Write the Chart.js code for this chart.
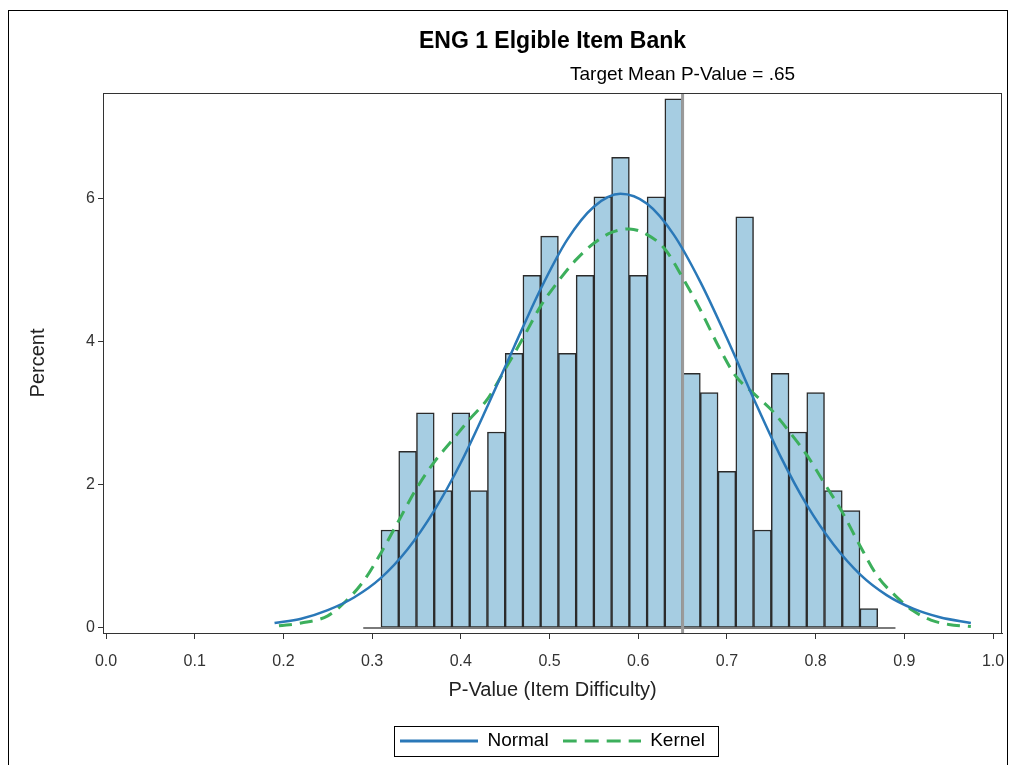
<!DOCTYPE html>
<html>
<head>
<meta charset="utf-8">
<title>ENG 1 Elgible Item Bank</title>
<script src="https://cdn.jsdelivr.net/npm/chart.js@4.4.1/dist/chart.umd.min.js"></script>
<style>
  html, body { margin: 0; padding: 0; background: #fff; }
  #wrap { position: relative; width: 1011px; height: 765px; overflow: hidden; }
  #frame { position: absolute; left: 8px; top: 10px; width: 1000px; height: 800px; border: 1px solid #000; box-sizing: border-box; }
  canvas#chart { position: absolute; left: 0; top: 0; }
</style>
</head>
<body>
<div id="wrap">
  <div id="frame"></div>
  <canvas id="chart" width="1011" height="765"></canvas>
</div>
<script>
// histogram: bins are 0.02 wide, these are the bin midpoints
const binCenters = [0.32, 0.34, 0.36, 0.38, 0.40, 0.42, 0.44, 0.46, 0.48, 0.50,
                    0.52, 0.54, 0.56, 0.58, 0.60, 0.62, 0.64, 0.66, 0.68, 0.70,
                    0.72, 0.74, 0.76, 0.78, 0.80, 0.82, 0.84, 0.86];
const binPercents = [1.37, 2.47, 3.01, 1.92, 3.01, 1.92, 2.74, 3.84, 4.93, 5.48,
                     3.84, 4.93, 6.03, 6.58, 4.93, 6.03, 7.40, 3.56, 3.29, 2.19,
                     5.75, 1.37, 3.56, 2.74, 3.29, 1.92, 1.64, 0.27];
// empty end bins only show as an outline on the baseline
const emptyBinEdges = [0.29, 0.89];

// fitted curves
const normalX = [0.19, 0.22, 0.25, 0.28, 0.31, 0.34, 0.37, 0.40, 0.43, 0.46,
                 0.49, 0.52, 0.55, 0.58, 0.61, 0.64, 0.67, 0.70, 0.73, 0.76,
                 0.79, 0.82, 0.85, 0.88, 0.91, 0.94, 0.975];
const normalPct = [0.07, 0.13, 0.25, 0.43, 0.70, 1.10, 1.64, 2.31, 3.10, 3.93,
                   4.74, 5.43, 5.89, 6.07, 5.93, 5.50, 4.84, 4.05, 3.21, 2.41,
                   1.72, 1.17, 0.75, 0.46, 0.27, 0.15, 0.07];

const kernelX = [0.195, 0.22, 0.25, 0.27, 0.29, 0.31, 0.33, 0.35, 0.37, 0.39,
                 0.41, 0.43, 0.45, 0.47, 0.49, 0.51, 0.53, 0.55, 0.57, 0.59,
                 0.61, 0.63, 0.65, 0.67, 0.69, 0.71, 0.73, 0.75, 0.77, 0.79,
                 0.81, 0.83, 0.85, 0.87, 0.89, 0.91, 0.93, 0.95, 0.975];
const kernelPct = [0.03, 0.07, 0.17, 0.37, 0.65, 1.05, 1.50, 1.95, 2.32, 2.62,
                   2.92, 3.20, 3.62, 4.05, 4.50, 4.85, 5.15, 5.38, 5.53, 5.58,
                   5.50, 5.30, 4.90, 4.45, 3.95, 3.52, 3.28, 3.05, 2.75, 2.42,
                   2.02, 1.62, 1.15, 0.72, 0.45, 0.24, 0.11, 0.05, 0.02];

const targetMean = 0.65;
const xTicks = [0, 0.1, 0.2, 0.3, 0.4, 0.5, 0.6, 0.7, 0.8, 0.9, 1.0];
const yTicks = [0, 2, 4, 6];

const xMin = -0.0034, xMax = 1.0101;
const yMin = -0.07, yMax = 7.48;

const NORMAL_COLOR = '#2a78b8';
const KERNEL_COLOR = '#3caf5c';
const FONT = "'Liberation Sans', Arial, sans-serif";

const pairs = (xs, ys) => xs.map((x, i) => ({ x: x, y: ys[i] }));

Chart.defaults.font.family = FONT;
Chart.defaults.color = '#333';

// legend samples: a plain line and a dashed one
function lineSample(color, width, dash) {
  const c = document.createElement('canvas');
  c.width = 78; c.height = 6;
  const g = c.getContext('2d');
  g.strokeStyle = color;
  g.lineWidth = width;
  g.setLineDash(dash);
  g.beginPath();
  g.moveTo(0, 3);
  g.lineTo(78, 3);
  g.stroke();
  return c;
}
const samples = {
  Normal: lineSample(NORMAL_COLOR, 3, []),
  Kernel: lineSample(KERNEL_COLOR, 3, [14, 8])
};

// target label above the plot + frame round the plot + box round the legend
const extras = {
  id: 'extras',
  afterDraw(chart) {
    const ctx = chart.ctx;
    const area = chart.chartArea;
    ctx.save();
    ctx.strokeStyle = '#333';
    ctx.lineWidth = 1;
    ctx.strokeRect(area.left + 0.5, area.top + 0.5, area.right - area.left - 1, area.bottom - area.top);

    const xPix = chart.scales.x.getPixelForValue(targetMean);
    ctx.fillStyle = '#000';
    ctx.font = '19px ' + FONT;
    ctx.textAlign = 'center';
    ctx.textBaseline = 'middle';
    ctx.fillText('Target Mean P-Value = .65', xPix, area.top - 18);

    const boxes = chart.legend.legendHitBoxes;
    if (boxes && boxes.length) {
      const l = Math.min(...boxes.map(b => b.left)) - 6;
      const r = Math.max(...boxes.map(b => b.left + b.width)) + 13;
      const cy = boxes[0].top + boxes[0].height / 2;
      ctx.strokeStyle = '#000';
      ctx.strokeRect(Math.round(l) + 0.5, Math.round(cy - 15) + 0.5, Math.round(r - l), 30);
    }
    ctx.restore();
  }
};

new Chart(document.getElementById('chart'), {
  type: 'bar',
  data: {
    datasets: [
      {
        type: 'line',
        label: 'Normal',
        data: pairs(normalX, normalPct),
        borderColor: NORMAL_COLOR,
        borderWidth: 2.5,
        pointRadius: 0,
        fill: false,
        cubicInterpolationMode: 'monotone',
        order: 0
      },
      {
        type: 'line',
        label: 'Kernel',
        data: pairs(kernelX, kernelPct),
        borderColor: KERNEL_COLOR,
        borderWidth: 3,
        borderDash: [13, 8],
        pointRadius: 0,
        fill: false,
        cubicInterpolationMode: 'monotone',
        order: 1
      },
      {
        type: 'line',
        label: 'target',
        data: [{ x: targetMean, y: yMin }, { x: targetMean, y: yMax }],
        borderColor: '#9a9a9a',
        borderWidth: 3,
        pointRadius: 0,
        order: 2
      },
      {
        type: 'line',
        label: 'empty bins',
        data: emptyBinEdges.map(x => ({ x: x, y: 0 })),
        borderColor: '#7a7a7a',
        borderWidth: 2,
        pointRadius: 0,
        order: 3
      },
      {
        label: 'Percent',
        data: pairs(binCenters, binPercents),
        backgroundColor: '#a6cde2',
        borderColor: '#2b2b2b',
        borderWidth: 1.5,
        borderSkipped: false,
        barPercentage: 1.0,
        categoryPercentage: 1.0,
        grouped: false,
        order: 4
      }
    ]
  },
  options: {
    responsive: false,
    animation: false,
    devicePixelRatio: 1,
    layout: { padding: { left: 0, right: 9, top: 0, bottom: 4.5 } },
    plugins: {
      title: {
        display: true,
        fullSize: false,
        text: 'ENG 1 Elgible Item Bank',
        color: '#000',
        font: { size: 23, weight: 'bold' },
        padding: { top: 28, bottom: 37.4 }
      },
      legend: {
        position: 'bottom',
        fullSize: false,
        labels: {
          generateLabels: chart => {
            const items = Chart.defaults.plugins.legend.labels.generateLabels(chart);
            return items
              .filter(it => samples[it.text])
              .map(it => Object.assign(it, { pointStyle: samples[it.text] }));
          },
          usePointStyle: true,
          pointStyleWidth: 78,
          padding: 14,
          color: '#000',
          font: { size: 19 }
        }
      },
      tooltip: { enabled: false }
    },
    scales: {
      x: {
        type: 'linear',
        min: xMin,
        max: xMax,
        offset: false,
        afterBuildTicks: s => { s.ticks = xTicks.map(v => ({ value: v })); },
        afterFit: s => { s.height = 84.5; s.paddingLeft = 0; s.paddingRight = 0; },
        ticks: {
          callback: v => v.toFixed(1),
          font: { size: 16 },
          padding: 13,
          maxRotation: 0
        },
        grid: { offset: false, drawOnChartArea: false, drawTicks: true, tickLength: 6, color: '#333' },
        border: { color: '#333' },
        title: {
          display: true,
          text: 'P-Value (Item Difficulty)',
          color: '#222',
          font: { size: 20 },
          padding: { top: 0, bottom: 15.5 }
        }
      },
      y: {
        min: yMin,
        max: yMax,
        afterBuildTicks: s => { s.ticks = yTicks.map(v => ({ value: v })); },
        afterFit: s => { s.width = 103; },
        ticks: { font: { size: 16 }, padding: 3 },
        grid: { drawOnChartArea: false, drawTicks: true, tickLength: 5, color: '#333' },
        border: { color: '#333' },
        title: {
          display: true,
          text: 'Percent',
          color: '#222',
          font: { size: 20 },
          padding: { top: 26, bottom: 0 }
        }
      }
    }
  },
  plugins: [extras]
});
</script>
</body>
</html>
